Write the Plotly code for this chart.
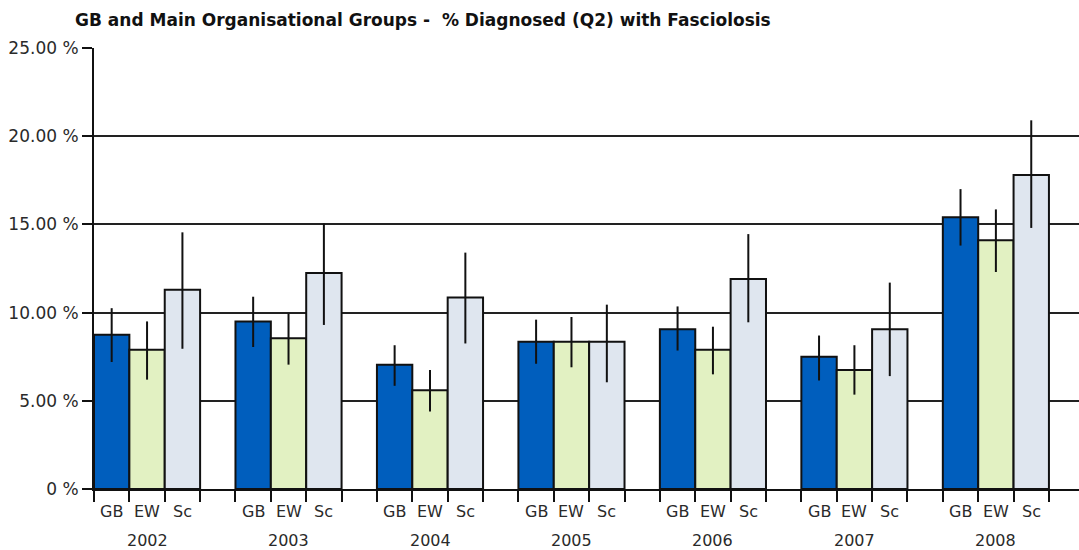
import plotly.graph_objects as go

# Survey years and organisational groups
years = ["2002", "2003", "2004", "2005", "2006", "2007", "2008"]
groups = ["GB", "EW", "Sc"]

# % diagnosed with fasciolosis, with upper / lower confidence bounds
gb_pct = [8.75, 9.5, 7.05, 8.35, 9.05, 7.5, 15.4]
gb_upper = [10.25, 10.9, 8.15, 9.6, 10.35, 8.7, 17.0]
gb_lower = [7.2, 8.05, 5.85, 7.1, 7.85, 6.15, 13.8]

ew_pct = [7.9, 8.55, 5.6, 8.35, 7.9, 6.75, 14.1]
ew_upper = [9.5, 9.95, 6.75, 9.75, 9.2, 8.15, 15.85]
ew_lower = [6.2, 7.05, 4.4, 6.9, 6.5, 5.35, 12.3]

sc_pct = [11.3, 12.25, 10.85, 8.35, 11.9, 9.05, 17.8]
sc_upper = [14.55, 15.05, 13.4, 10.45, 14.45, 11.7, 20.9]
sc_lower = [7.95, 9.3, 8.25, 6.05, 9.45, 6.4, 14.8]

y_tick_vals = [0, 5, 10, 15, 20, 25]
y_tick_text = ["0 %", "5.00 %", "10.00 %", "15.00 %", "20.00 %", "25.00 %"]

series = [
    (gb_pct, gb_upper, gb_lower, "#005EBD"),
    (ew_pct, ew_upper, ew_lower, "#E2F1C2"),
    (sc_pct, sc_upper, sc_lower, "#DFE6EF"),
]

SLOTS_PER_YEAR = 4  # three bars plus one empty slot

fig = go.Figure()
for k, (vals, up, lo, color) in enumerate(series):
    xs = [g * SLOTS_PER_YEAR + k + 0.5 for g in range(len(years))]
    fig.add_trace(go.Bar(
        x=xs, y=vals, width=1.0,
        marker=dict(color=color, line=dict(color="#111111", width=2)),
        error_y=dict(type="data", symmetric=False,
                     array=[u - v for u, v in zip(up, vals)],
                     arrayminus=[v - l for v, l in zip(vals, lo)],
                     color="#111111", thickness=2, width=0),
        name=groups[k], showlegend=False,
    ))

# Category labels under each bar and year labels under each block
font = dict(family="DejaVu Sans", size=16, color="#2a2a2a")
annotations = []
for g, yr in enumerate(years):
    for k, name in enumerate(groups):
        annotations.append(dict(
            x=g * SLOTS_PER_YEAR + k + 0.5, y=0, xref="x", yref="paper",
            text=name, showarrow=False, yanchor="middle", yshift=-22, font=font))
    annotations.append(dict(
        x=g * SLOTS_PER_YEAR + 1.5, y=0, xref="x", yref="paper",
        text=yr, showarrow=False, yanchor="middle", yshift=-51, font=font))

x_ticks = [g * SLOTS_PER_YEAR + k for g in range(len(years)) for k in range(4)]

fig.update_layout(
    width=1079, height=550,
    margin=dict(l=94, r=0, t=48, b=61),
    paper_bgcolor="white", plot_bgcolor="white",
    barmode="overlay",
    title=dict(text="<b>GB and Main Organisational Groups -  % Diagnosed (Q2) with Fasciolosis</b>",
               x=75 / 1079, xanchor="left", xref="container",
               y=1 - 20 / 550, yanchor="middle", yref="container",
               font=dict(family="DejaVu Sans", size=17, color="#111111")),
    xaxis=dict(range=[0, 27.85], tickvals=x_ticks, showticklabels=False,
               ticks="outside", ticklen=11, tickwidth=2, tickcolor="#111111",
               showline=True, linecolor="#111111", linewidth=2,
               showgrid=False, zeroline=False),
    yaxis=dict(range=[0, 25], tickvals=y_tick_vals, ticktext=y_tick_text,
               ticks="outside", ticklen=10, tickwidth=2, tickcolor="#111111",
               showline=True, linecolor="#111111", linewidth=2,
               showgrid=True, gridcolor="#222222", gridwidth=1.6,
               zeroline=False,
               tickfont=dict(family="DejaVu Sans", size=17, color="#2a2a2a")),
    annotations=annotations,
)

fig.write_html("out.html")
